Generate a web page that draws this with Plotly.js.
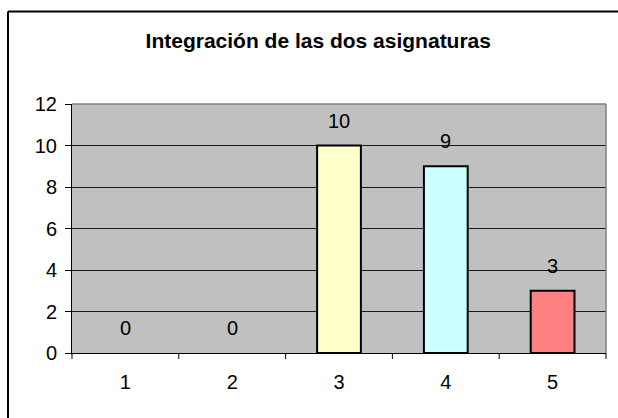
<!DOCTYPE html>
<html>
<head>
<meta charset="utf-8">
<script src="https://cdn.plot.ly/plotly-3.0.1.min.js"></script>
<style>html,body{margin:0;padding:0;background:#fff;}#chart{width:618px;height:418px;}</style>
</head>
<body>
<div id="chart"></div>
<script>
const categories = ['1', '2', '3', '4', '5'];
const values = [0, 0, 10, 9, 3];
const barColors = ['#FFFFCC', '#FFFFCC', '#FFFFCC', '#CCFFFF', '#FF8080'];
const yTicks = [0, 2, 4, 6, 8, 10, 12];
const titleText = 'Integración de las dos asignaturas';

const font = {family: 'Liberation Sans, Arial, sans-serif', size: 20, color: '#000'};

const trace = {
  type: 'bar',
  x: categories,
  y: values,
  marker: {color: barColors, line: {color: '#000', width: values.map(v => v > 0 ? 2 : 0)}},
  width: 0.41,
  hoverinfo: 'none'
};

const annotations = categories.map((c, i) => ({
  x: i, y: values[i], xref: 'x', yref: 'y',
  text: String(values[i]), showarrow: false,
  yanchor: 'bottom', yshift: 12,
  font: font
}));

const L = 72, R = 12, T = 104, B = 65, W = 618, H = 418;
const pw = W - L - R, ph = H - T - B;
const px = v => (v - L) / pw;
const py = v => (H - B - v) / ph;

const layout = {
  width: W, height: H,
  margin: {l: L, r: R, t: T, b: B, pad: 0},
  paper_bgcolor: '#fff',
  plot_bgcolor: '#C0C0C0',
  showlegend: false,
  bargap: 0.59,
  title: {text: '<b>' + titleText + '</b>', x: 0.515, xanchor: 'center', y: 1 - 41 / H, yanchor: 'middle',
          font: {family: 'Liberation Sans, Arial, sans-serif', size: 21, color: '#000'}},
  xaxis: {
    type: 'category', range: [-0.5, 4.5], showgrid: false, zeroline: false,
    showline: true, linecolor: '#000', linewidth: 1,
    ticks: '', tickfont: font, ticklabelstandoff: 11
  },
  yaxis: {
    range: [0, 12], tickvals: yTicks, ticktext: yTicks.map(String),
    showgrid: true, gridcolor: '#1a1a1a', gridwidth: 1, zeroline: false,
    showline: true, linecolor: '#000', linewidth: 1,
    ticks: 'outside', ticklen: 6, tickcolor: '#000', tickfont: font, ticklabelstandoff: 4
  },
  annotations: annotations,
  shapes: [
    {type: 'line', xref: 'paper', yref: 'paper', x0: 0, x1: 1, y0: 1, y1: 1, line: {color: '#808080', width: 1.5}},
    {type: 'line', xref: 'paper', yref: 'paper', x0: 1, x1: 1, y0: 0, y1: 1, line: {color: '#808080', width: 1.5}},
    {type: 'line', xref: 'paper', yref: 'paper', x0: px(8), x1: px(8), y0: py(11.5), y1: py(430), line: {color: '#000', width: 2}},
    {type: 'line', xref: 'paper', yref: 'paper', x0: px(8), x1: px(630), y0: py(11.5), y1: py(11.5), line: {color: '#000', width: 2}},
    ...[0.5, 1.5, 2.5, 3.5].map(b => ({type: 'line', xref: 'x', yref: 'paper', x0: b, x1: b, y0: 0, y1: -6 / ph, line: {color: '#000', width: 1}})),
    {type: 'line', xref: 'paper', yref: 'paper', x0: 0, x1: 0, y0: 0, y1: -6 / ph, line: {color: '#000', width: 1}},
    {type: 'line', xref: 'paper', yref: 'paper', x0: 1, x1: 1, y0: 0, y1: -6 / ph, line: {color: '#000', width: 1}}
  ]
};

Plotly.newPlot('chart', [trace], layout, {staticPlot: true, displayModeBar: false});
</script>
</body>
</html>
